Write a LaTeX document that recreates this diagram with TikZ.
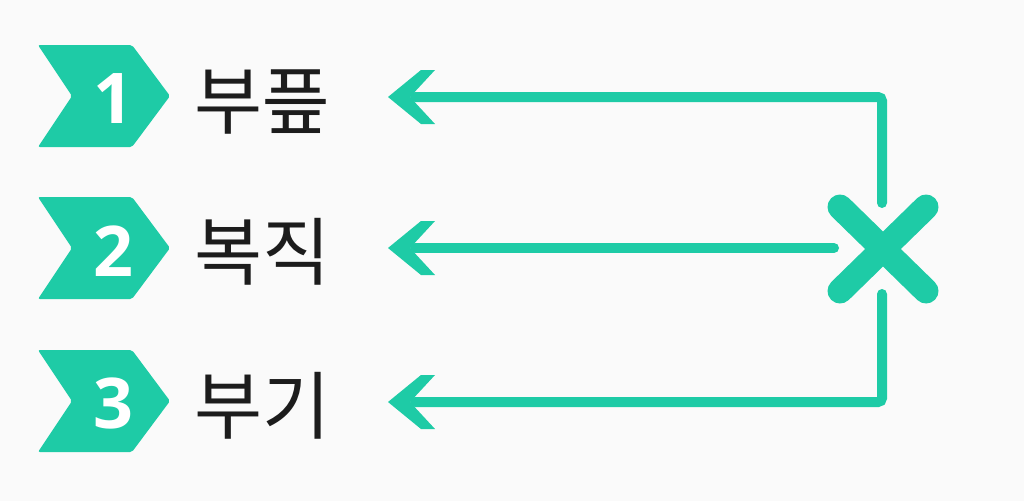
\documentclass[tikz,border=0pt]{standalone}
\usepackage{fontspec}
\setmainfont{Open Sans}
\newfontfamily\krfont{Noto Sans CJK KR}
\definecolor{tealone}{RGB}{30,203,166}
\definecolor{bgcol}{RGB}{250,250,250}
\definecolor{inkcol}{RGB}{28,28,28}
\begin{document}
\begin{tikzpicture}[x=1pt,y=-1pt,
  badge/.style={fill=tealone, rounded corners=2pt},
  num/.style={text=white, font=\fontsize{70}{70}\selectfont\bfseries, anchor=base, inner sep=0pt},
  lbl/.style={text=inkcol, font=\krfont\fontsize{74}{74}\selectfont, anchor=base west, inner sep=0pt},
  conn/.style={draw=tealone, line width=10pt, line cap=round, rounded corners=4pt},
  headfill/.style={fill=tealone},
  cross/.style={draw=tealone, line width=25pt, line cap=round}]
\fill[bgcol] (0,0) rectangle (1024,501);
\useasboundingbox (0,0) rectangle (1024,501);
% badges
\foreach \c in {96,248,401}{
  \fill[badge] (38,\c-51) -- (132,\c-51) -- (170,\c) -- (132,\c+51) -- (38,\c+51) -- (72,\c) -- cycle;
}
\node[num] (n1) at (113,123) {1};
\node[num] (n2) at (113,276) {2};
\node[num] (n3) at (113,428) {3};
% labels
\node[lbl] (l1) at (194,128) {부픞};
\node[lbl] (l2) at (194,279) {복직};
\node[lbl] (l3) at (194,433) {부기};
% cross
\coordinate (xc) at (883,249);
\draw[cross] (840,207) -- (926,291);
\draw[cross] (840,291) -- (926,207);
% connector ends
\coordinate (xtop) at (882,203);
\coordinate (xbot) at (882,294);
\coordinate (xleft) at (834,248);
\coordinate (h1) at (388,97);
\coordinate (h2) at (388,248);
\coordinate (h3) at (388,402);
\coordinate (b1) at (415,97);
\coordinate (b2) at (415,248);
\coordinate (b3) at (415,402);
\draw[conn] (xtop) |- (b1);
\draw[conn] (xleft) -- (b2);
\draw[conn] (xbot) |- (b3);
\foreach \h in {h1,h2,h3}{
  \fill[headfill, shift={(\h)}] (0,0) -- (33,-27) -- (47,-27) -- (22,0) -- (47,27) -- (33,27) -- cycle;
}
\end{tikzpicture}
\end{document}
